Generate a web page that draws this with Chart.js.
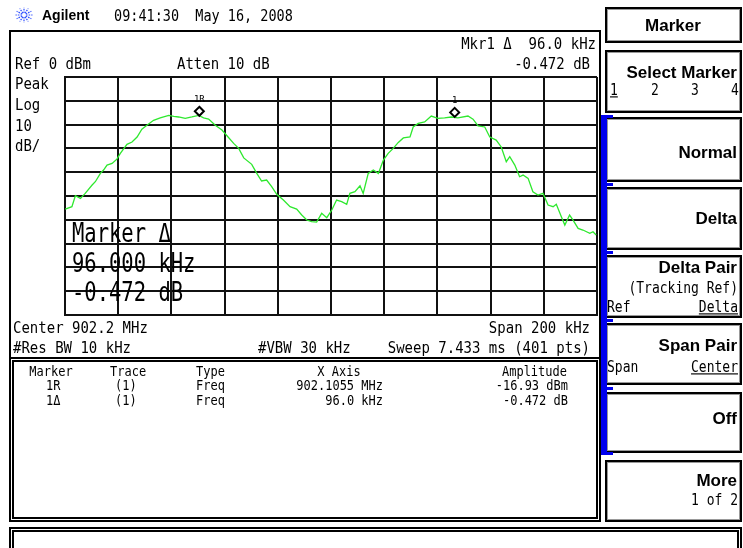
<!DOCTYPE html>
<html>
<head>
<meta charset="utf-8">
<script src="https://cdn.jsdelivr.net/npm/chart.js@4.4.0/dist/chart.umd.min.js"></script>
<style>
    html, body { margin: 0; padding: 0; background: #fff; }
    #wrap { position: relative; width: 743px; height: 548px; overflow: hidden; background: #fff; }
    #spec { position: absolute; left: 0; top: 0; z-index: 1; }
    .box { position: absolute; box-sizing: border-box; z-index: 2; }
    .frame { border: 2px solid #000; }
    .dbl { border: 5px double #000; }
    .key { border: 2px solid #000; box-shadow: inset 0 0 0 1px #999; }
    .t { position: absolute; z-index: 3; color: #000; white-space: pre; transform: translateY(-50%) scaleY(var(--sy, 1)); }
    .m14 { font: 14px/14px "DejaVu Sans Mono", monospace; --sy: 1.18; }
    .m13 { font: 13.5px/14px "DejaVu Sans Mono", monospace; --sy: 1.18; }
    .m12 { font: 12px/12px "DejaVu Sans Mono", monospace; --sy: 1.2; }
    .sk2 { font: 13px/13px "DejaVu Sans Mono", monospace; --sy: 1.15; }
    .big { font: 20.5px/20px "DejaVu Sans Mono", monospace; --sy: 1.3; }
    .sk { font: bold 17px/17px "Liberation Sans", Arial, sans-serif; }
    .logo { font: bold 14px/14px "Liberation Sans", Arial, sans-serif; }
    .ul { text-decoration: underline; }
</style>
</head>
<body>
<div id="wrap">
    <canvas id="spec" width="743" height="548"></canvas>
</div>
<script>
// Trace 1: offset from center (kHz) and level (dBm)
const centerMHz = 902.2;
const spanKHz = 200;
const refLevel = 0;
const dbPerDiv = 10;

const traceOffsetKHz = [
    -99.9, -97.4, -96.1, -94.2, -92.4, -89.8, -88.6, -86.7, -85.5, -84.2,
    -82.3, -80.5, -79.2, -76.7, -74.8, -72.9, -71.1, -69.2, -66.7, -64.2,
    -61.0, -59.1, -57.3, -54.8, -52.3, -49.7, -47.9, -46.0, -43.5, -41.0,
    -39.1, -36.6, -34.7, -32.8, -29.8, -27.9, -26.1, -24.2, -22.3, -20.4,
    -17.9, -15.4, -12.9, -11.0, -9.1, -7.3, -5.4, -3.5, -1.6, 0.3,
    2.1, 4.0, 5.9, 7.1, 9.0, 10.9, 12.1, 14.0, 15.9, 17.8,
    19.7, 21.5, 23.4, 25.3, 27.2, 29.7, 30.9, 32.8, 35.2, 37.7,
    40.2, 42.7, 45.2, 47.7, 51.5, 53.4, 55.3, 57.8, 59.7, 62.1,
    64.0, 65.9, 67.2, 69.1, 70.9, 72.2, 74.1, 75.9, 77.8, 79.7,
    81.6, 83.5, 84.7, 86.6, 87.9, 89.7, 91.0, 92.9, 94.7, 97.3,
    98.5, 99.7
];
const traceAmpDbm = [
    -55.5, -54.5, -49.9, -51.0, -48.9, -45.4, -44.0, -40.5, -39.1, -37.0,
    -36.3, -34.5, -32.1, -28.3, -27.3, -25.2, -21.9, -20.3, -18.2, -17.2,
    -16.1, -16.5, -16.8, -17.4, -16.8, -16.1, -17.2, -17.7, -20.3, -22.3,
    -24.7, -27.9, -30.0, -34.0, -36.7, -40.5, -43.7, -43.3, -46.1, -49.3,
    -51.7, -54.5, -55.5, -58.0, -60.1, -60.8, -61.0, -57.3, -59.1, -55.9,
    -51.7, -52.4, -53.5, -48.9, -48.2, -45.7, -48.9, -40.5, -39.1, -40.5,
    -34.9, -32.1, -30.0, -27.5, -25.6, -25.2, -21.0, -19.5, -18.9, -16.4,
    -17.4, -17.2, -16.8, -17.2, -16.4, -17.7, -20.5, -21.0, -25.2, -26.5,
    -29.4, -35.6, -33.5, -37.0, -41.9, -41.2, -42.6, -48.2, -49.6, -48.9,
    -53.8, -54.5, -53.5, -58.7, -62.2, -58.0, -60.1, -63.6, -64.3, -65.7,
    -65.0, -66.4
];

// Markers
const markerLabels = ['1R', '1'];
const markerOffsetKHz = [-49.5, 46.5];
const markerAmpDbm = [-16.93, -17.40];

const wrap = document.getElementById('wrap');

function put(text, x, cy, cls, align) {
    const d = document.createElement('div');
    d.className = 't ' + cls;
    d.textContent = text;
    if (align === 'right') d.style.right = (743 - x) + 'px';
    else if (align === 'center') { d.style.left = (x - 80) + 'px'; d.style.width = '160px'; d.style.textAlign = 'center'; }
    else d.style.left = x + 'px';
    d.style.top = cy + 'px';
    wrap.appendChild(d);
    return d;
}

function rect(cls, x, y, w, h, extra) {
    const d = document.createElement('div');
    d.className = 'box ' + cls;
    d.style.left = x + 'px'; d.style.top = y + 'px';
    d.style.width = w + 'px'; d.style.height = h + 'px';
    if (extra) Object.assign(d.style, extra);
    wrap.appendChild(d);
    return d;
}

// frames
rect('frame', 9, 30, 592, 492);
rect('dbl', 9, 357, 592, 165);
rect('dbl', 9, 527, 733, 40);

// softkeys
const keys = [[7, 36], [50, 63], [117, 65], [187, 63], [255, 63], [323, 62], [392, 61], [460, 62]];
keys.forEach(k => rect('key', 605, k[0], 137, k[1]));

// blue active bar + notches
rect('', 601, 115, 6, 340, { background: '#0000ee' });
[115, 183, 251, 319, 387, 452].forEach(y => rect('', 601, y, 12, 3, { background: '#0000ee' }));

// header
const svgNS = 'http://www.w3.org/2000/svg';
const star = document.createElementNS(svgNS, 'svg');
star.setAttribute('width', '20'); star.setAttribute('height', '16');
star.setAttribute('viewBox', '-10 -8 20 16');
star.style.cssText = 'position:absolute;left:14px;top:7px;z-index:3';
for (let a = 0; a < 12; a++) {
    const ang = a * Math.PI / 6;
    const ln = document.createElementNS(svgNS, 'line');
    ln.setAttribute('x1', 2 * Math.cos(ang)); ln.setAttribute('y1', 2 * Math.sin(ang));
    ln.setAttribute('x2', 8.5 * Math.cos(ang)); ln.setAttribute('y2', 7.5 * Math.sin(ang));
    ln.setAttribute('stroke', '#3050ff'); ln.setAttribute('stroke-width', '1.2');
    ln.setAttribute('stroke-dasharray', '1.6 1');
    star.appendChild(ln);
}
wrap.appendChild(star);
put('Agilent', 42, 15, 'logo');
put('09:41:30  May 16, 2008', 114, 15, 'm13');

// screen annotations
put('Mkr1 \u0394  96.0 kHz', 596, 43, 'm14', 'right');
put('-0.472 dB', 590, 63, 'm14', 'right');
put('Ref 0 dBm', 15, 63, 'm14');
put('Atten 10 dB', 177, 63, 'm14');
put('Peak', 15, 83, 'm14');
put('Log', 15, 104, 'm14');
put('10', 15, 125, 'm14');
put('dB/', 15, 145, 'm14');

put('Marker \u0394', 72, 233, 'big');
put('96.000 kHz', 72, 263, 'big');
put('-0.472 dB', 72, 292, 'big');

put('Center 902.2 MHz', 13, 327, 'm14');
put('Span 200 kHz', 590, 327, 'm14', 'right');
put('#Res BW 10 kHz', 13, 347, 'm14');
put('#VBW 30 kHz', 258, 347, 'm14');
put('Sweep 7.433 ms (401 pts)', 590, 347, 'm14', 'right');

// marker table
put('Marker', 51, 371, 'm12', 'center');
put('Trace', 110, 371, 'm12');
put('Type', 196, 371, 'm12');
put('X Axis', 339, 371, 'm12', 'center');
put('Amplitude', 567, 371, 'm12', 'right');
put('1R', 46, 385, 'm12');
put('(1)', 115, 385, 'm12');
put('Freq', 196, 385, 'm12');
put('902.1055 MHz', 383, 385, 'm12', 'right');
put('-16.93 dBm', 568, 385, 'm12', 'right');
put('1\u0394', 46, 400, 'm12');
put('(1)', 115, 400, 'm12');
put('Freq', 196, 400, 'm12');
put('96.0 kHz', 383, 400, 'm12', 'right');
put('-0.472 dB', 568, 400, 'm12', 'right');

// softkey labels
put('Marker', 673, 25, 'sk', 'center');
put('Select Marker', 737, 72, 'sk', 'right');
put('1', 610, 90, 'sk2 ul');
put('2', 651, 90, 'sk2');
put('3', 691, 90, 'sk2');
put('4', 731, 90, 'sk2');
put('Normal', 737, 152, 'sk', 'right');
put('Delta', 737, 218, 'sk', 'right');
put('Delta Pair', 737, 267, 'sk', 'right');
put('(Tracking Ref)', 738, 288, 'sk2', 'right');
put('Ref', 607, 307, 'sk2');
put('Delta', 738, 307, 'sk2 ul', 'right');
put('Span Pair', 737, 345, 'sk', 'right');
put('Span', 607, 367, 'sk2');
put('Center', 738, 367, 'sk2 ul', 'right');
put('Off', 737, 418, 'sk', 'right');
put('More', 737, 480, 'sk', 'right');
put('1 of 2', 738, 500, 'sk2', 'right');

// diamonds sit just above the trace point, label above that
const markerPlugin = {
    id: 'markers',
    afterDatasetsDraw(chart) {
        const { ctx, scales: { x, y } } = chart;
        ctx.save();
        markerOffsetKHz.forEach((f, i) => {
            const px = x.getPixelForValue(f);
            const py = y.getPixelForValue(markerAmpDbm[i]) - 6;
            ctx.beginPath();
            ctx.moveTo(px, py - 4.5);
            ctx.lineTo(px + 4.5, py);
            ctx.lineTo(px, py + 4.5);
            ctx.lineTo(px - 4.5, py);
            ctx.closePath();
            ctx.fillStyle = '#fff';
            ctx.fill();
            ctx.lineWidth = 2;
            ctx.strokeStyle = '#000';
            ctx.stroke();
            ctx.fillStyle = '#000';
            ctx.font = '9px "DejaVu Sans Mono"';
            ctx.textAlign = 'center';
            ctx.textBaseline = 'middle';
            ctx.fillText(markerLabels[i], px, py - 12);
        });
        ctx.restore();
    }
};

const gridStyle = { color: '#111', lineWidth: 2, drawTicks: false };
const borderStyle = { display: true, color: '#111', width: 2 };

new Chart(document.getElementById('spec'), {
    type: 'line',
    data: {
        datasets: [{
            label: 'Trace 1',
            data: traceOffsetKHz.map((f, i) => ({ x: f, y: traceAmpDbm[i] })),
            borderColor: '#2ee82e',
            borderWidth: 1.3,
            pointRadius: 0,
            tension: 0,
            fill: false
        }]
    },
    options: {
        responsive: false,
        animation: false,
        layout: { padding: { left: 65, top: 77, right: 146, bottom: 233 } },
        plugins: { legend: { display: false }, tooltip: { enabled: false } },
        scales: {
            x: {
                type: 'linear',
                min: -spanKHz / 2,
                max: spanKHz / 2,
                ticks: { display: false, stepSize: spanKHz / 10 },
                grid: gridStyle,
                border: borderStyle
            },
            y: {
                min: refLevel - 10 * dbPerDiv,
                max: refLevel,
                ticks: { display: false, stepSize: dbPerDiv },
                grid: gridStyle,
                border: borderStyle
            }
        }
    },
    plugins: [markerPlugin]
});
</script>
</body>
</html>
